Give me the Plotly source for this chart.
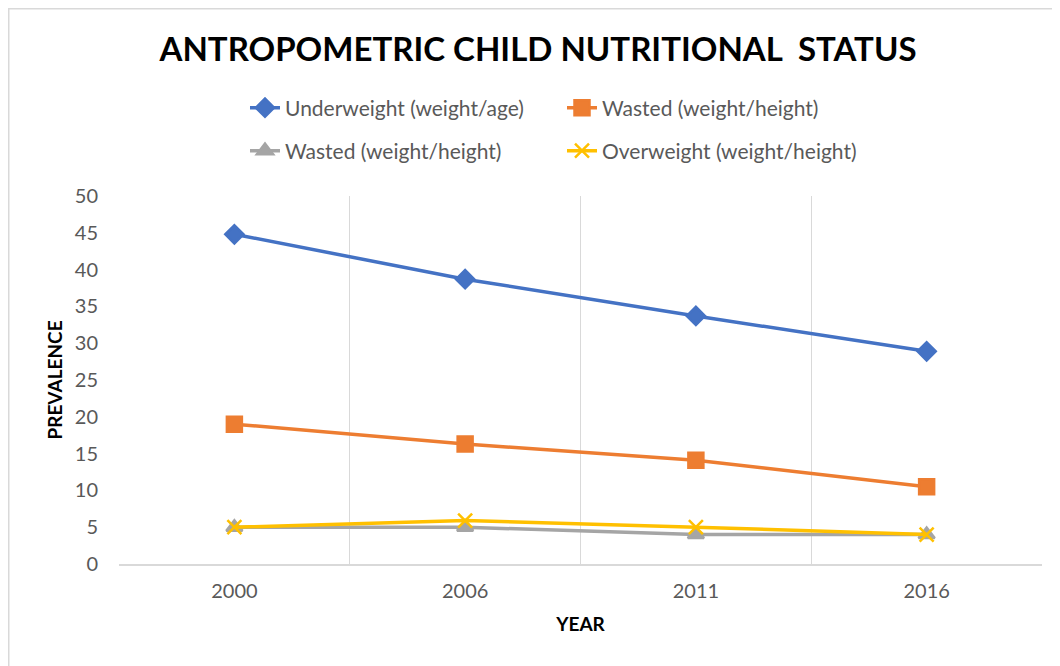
import plotly.graph_objects as go

years = ["2000", "2006", "2011", "2016"]
underweight = [44.8, 38.7, 33.7, 28.9]
wasted_orange = [19.0, 16.3, 14.1, 10.5]
wasted_gray = [5.0, 5.0, 4.0, 4.0]
overweight = [5.0, 5.9, 5.0, 4.0]

names = ["Underweight (weight/age)", "Wasted (weight/height)",
         "Wasted (weight/height)", "Overweight (weight/height)"]
colors = ["#4472C4", "#ED7D31", "#A5A5A5", "#FFC000"]
symbols = ["diamond", "square", "triangle-up", "x-thin"]
sizes = [14, 15, 14, 14]
legends = ["legend", "legend", "legend2", "legend2"]

# page has an 8px body margin; figure coordinates are page coordinates minus 8
OFF = 8
W, H = 1060 - OFF, 666 - OFF
PL, PR, PT, PB = 119 - OFF, 1042 - OFF, 196 - OFF, 564 - OFF
PW, PH = PR - PL, PB - PT

fig = go.Figure()
for vals, name, c, s, sz, lg in zip([underweight, wasted_orange, wasted_gray, overweight],
                                    names, colors, symbols, sizes, legends):
    fig.add_trace(go.Scatter(
        x=years, y=vals, name=name, mode="lines+markers",
        line=dict(color=c, width=3.5),
        marker=dict(symbol=s, size=sz, color=c, line=dict(color=c, width=2.5)),
        legend=lg,
    ))

font_family = "Lato, 'Open Sans', sans-serif"
legend_common = dict(orientation="h", xanchor="left", yanchor="middle",
                     font=dict(family=font_family, size=21, color="#595959"),
                     entrywidth=272, entrywidthmode="pixels", bgcolor="rgba(0,0,0,0)")

fig.update_layout(
    width=W, height=H,
    margin=dict(l=PL, r=W - PR, t=PT, b=H - PB),
    paper_bgcolor="white", plot_bgcolor="white",
    font=dict(family=font_family, color="#595959"),
    title=dict(text="<b>ANTROPOMETRIC CHILD NUTRITIONAL  STATUS</b>",
               x=(538 - OFF) / W, xref="container", xanchor="center",
               y=1 - (49 - OFF) / H, yanchor="middle",
               font=dict(family=font_family, size=33, color="black")),
    legend=dict(x=(245 - OFF - PL) / PW, y=1 + (PT - (108 - OFF)) / PH, **legend_common),
    legend2=dict(x=(245 - OFF - PL) / PW, y=1 + (PT - (151 - OFF)) / PH, **legend_common),
    xaxis=dict(
        type="category", range=[-0.5, 3.5], tickson="boundaries",
        showgrid=True, gridcolor="#d9d9d9", gridwidth=1,
        showline=True, linecolor="#d9d9d9", linewidth=2,
        ticks="", ticklabelstandoff=8, tickfont=dict(size=20, color="#595959"),
        title=dict(text="<b>YEAR</b>", font=dict(size=19, color="black"), standoff=17),
    ),
    yaxis=dict(
        range=[0, 50], dtick=5, showgrid=False, zeroline=False,
        showline=False, ticks="", ticklabelstandoff=20,
        tickfont=dict(size=20, color="#595959"),
        title=dict(text="<b>PREVALENCE</b>", font=dict(size=19, color="black"), standoff=7),
    ),
    showlegend=True,
)

fig.add_shape(type="rect", xref="paper", yref="paper",
              x0=(0.75 - PL) / PW, x1=(W + 20 - PL) / PW,
              y0=1 - (H + 20 - PT) / PH, y1=1 + (PT - 0.75) / PH,
              line=dict(color="#d9d9d9", width=1.5), layer="below")

fig.write_html("out.html")
